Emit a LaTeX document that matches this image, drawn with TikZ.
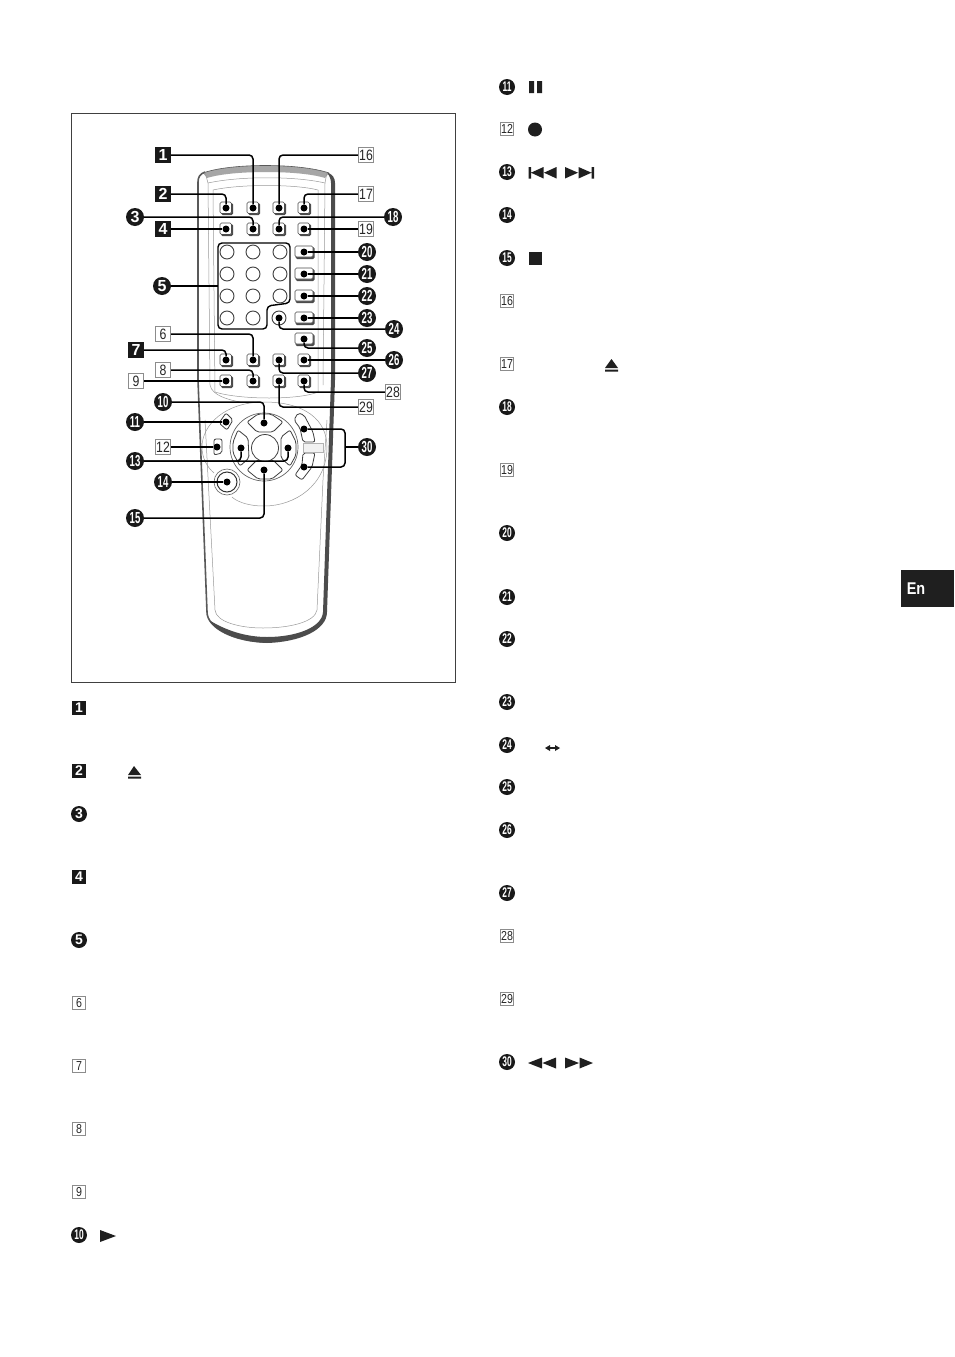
\documentclass[tikz,border=0pt]{standalone}
\usepackage{fontspec}
\usepackage{graphicx}
\setmainfont{Liberation Sans}
\newcommand{\nn}[1]{\scalebox{.6}[1]{#1}}
\newcommand{\mm}[1]{\scalebox{.82}[1]{#1}}
\tikzset{
 sqlab/.style={rectangle,fill=black!90,text=white,minimum size=16,inner sep=0,font=\fontsize{16}{16}\selectfont\bfseries},
 circlab/.style={circle,fill=black!90,text=white,minimum size=18,inner sep=0,font=\fontsize{16}{16}\selectfont\bfseries},
 boxlab/.style={rectangle,draw=black!45,line width=.7,fill=white,text=black!85,minimum size=15.5,inner sep=0,font=\fontsize{15}{15}\selectfont},
 sqsm/.style={sqlab,minimum size=14.5,font=\fontsize{14}{14}\selectfont\bfseries},
 circsm/.style={circlab,minimum size=16,font=\fontsize{14}{14}\selectfont\bfseries},
 boxsm/.style={boxlab,minimum size=13.5,font=\fontsize{13}{13}\selectfont},
 dot/.style={circle,fill=black,minimum size=7,inner sep=0},
 conn/.style={draw=black,line width=1.5,rounded corners=4},
 body/.style={draw=black!65,line width=.9},
 fine/.style={draw=black!40,line width=.5},
 key/.style={draw=black!75,line width=.8,fill=white,rounded corners=2},
 icon/.style={fill=black!88,draw=none},
}
\begin{document}
\begin{tikzpicture}[x=1pt,y=-1pt]
\useasboundingbox (0,0) rectangle (954,1357);
\fill[white] (0,0) rectangle (954,1357);
% frame and tab
\draw[black!75,line width=.7] (71,113) rectangle (455,682);
\fill[black!88] (901,570) rectangle (954,607);
\node[text=white,font=\fontsize{17}{17}\selectfont\bfseries] (tab) at (916,589) {\scalebox{.85}[1]{En}};
% remote body
\fill[black!35] (203,173) .. controls (230,163) and (300,163) .. (329,173) -- (325,178) .. controls (300,170) and (232,170) .. (207,178) -- cycle;
\draw[black!65,line width=.6] (203,173) .. controls (230,163) and (300,163) .. (329,173);
\draw[body,line width=1.6] (205,172) .. controls (200,174) and (198,177) .. (198,182) -- (198,380) -- (207,612) .. controls (207,628) and (235,642) .. (267,642);
\fill[black!70] (327,172) .. controls (333,175) and (335,178) .. (335,183) -- (335,380) -- (327,612) .. controls (327,630) and (300,642) .. (267,643) .. controls (240,642) and (215,632) .. (209,620) .. controls (225,630) and (245,637) .. (267,637) .. controls (295,637) and (322,628) .. (323,612) -- (331,380) -- (331,183) .. controls (331,178) and (329,176) .. (327,172) -- cycle;
\draw[fine] (205,172) -- (208,183) (327,172) -- (325,183);
\draw[fine] (208,183) .. controls (240,176) and (295,176) .. (325,183);
\draw[fine] (213,190) .. controls (240,184) and (295,184) .. (318,190);
\draw[fine] (208,183) -- (210,385) (325,183) -- (323,385);
\draw[fine] (213,190) -- (215,392) (318,190) -- (318,392);
\draw[fine] (215,392) .. controls (240,400) and (300,400) .. (318,392);
\draw[fine] (210,385) .. controls (212,396) and (230,400) .. (240,402);
\draw[fine] (205,420) -- (215,610) .. controls (216,622) and (240,628) .. (263,628) .. controls (290,628) and (315,622) .. (317,610) -- (323,480) -- (327,420);
\draw[fine] (264,402) .. controls (305,402) and (327,420) .. (327,447) .. controls (327,485) and (295,506) .. (264,506) .. controls (245,506) and (235,500) .. (232,497);
\draw[fine] (264,402) .. controls (225,402) and (202,425) .. (202,447) .. controls (202,458) and (207,467) .. (214,473);
% top buttons
\foreach \x/\y in {226/208,253/208,279/208,304/208,226/229,253/229,279/229,304/229,226/360,253/360,279/360,304/360,226/381,253/381,279/381,304/381}{
 \fill[black!70,rounded corners=1.5] (\x-5,\y-5) rectangle (\x+7,\y+7);
 \draw[black!70,fill=white,line width=.6,rounded corners=1.5] (\x-6,\y-6) rectangle (\x+5.5,\y+5.5);
}
\foreach \y in {252,274,296,318,339}{
 \fill[black!70,rounded corners=1.5] (295.5,\y-5) rectangle (314.5,\y+7);
 \draw[black!70,fill=white,line width=.6,rounded corners=1.5] (295,\y-6) rectangle (313,\y+5);
}
% number pad
\foreach \x in {227,253,280}{\foreach \y in {252,274,296}{
 \draw[black!75,fill=white,line width=.9] (\x,\y) circle (7);
}}
\foreach \x in {227,253}{\draw[black!75,fill=white,line width=.9] (\x,318) circle (7);}
\draw[black!75,fill=white,line width=.9] (279,318) circle (7);
\draw[conn,line width=1.4] (218,243) -- (290,243) -- (290,303) -- (267,306) -- (267,329) -- (218,329) -- cycle;
% control keys
\draw[black!60,line width=.7] (264,447) circle (34);
\draw[key] (247,422) -- (258,414) -- (271,414) -- (283,422) -- (273,432) -- (257,432) -- cycle;
\draw[key] (247,470) -- (258,479) -- (272,479) -- (283,470) -- (273,460) -- (257,460) -- cycle;
\draw[key] (238,430) -- (233,442) -- (233,453) -- (240,466) -- (249,458) -- (248,438) -- cycle;
\draw[key] (290,430) -- (296,442) -- (296,455) -- (290,466) -- (281,458) -- (281,437) -- cycle;
\draw[black!75,fill=white,line width=.8] (265,448) circle (13.5);
\draw[key] (298,413) -- (304,415) -- (313,432) -- (315,442) -- (303,442) -- (300,428) -- (294,420) -- cycle;
\draw[key] (303,453) -- (315,453) -- (312,467) -- (302,480) -- (295,475) -- (302,465) -- cycle;
\draw[black!30,fill=black!5,line width=.5] (303,443) rectangle (323,452);
\draw[key] (226,413) -- (233,420) -- (227,430) -- (219,423) -- cycle;
\draw[key] (214,439) -- (222,439) -- (222,453) -- (214,455) -- cycle;
\draw[black!60,fill=white,line width=.6] (227,482) circle (13);
\draw[black!80,fill=white,line width=1] (227,482) circle (10);
% button dots
\node[dot] (d1) at (253,208) {};
\node[dot] (d2) at (226,208) {};
\node[dot] (d3) at (253,229) {};
\node[dot] (d4) at (226,229) {};
\node[dot] (d6) at (253,360) {};
\node[dot] (d7) at (226,360) {};
\node[dot] (d8) at (253,381) {};
\node[dot] (d9) at (226,381) {};
\node[dot] (d10) at (264,423) {};
\node[dot] (d11) at (226,422) {};
\node[dot] (d12) at (217,447) {};
\node[dot] (d13a) at (241,448) {};
\node[dot] (d13b) at (288,448) {};
\node[dot] (d14) at (227,482) {};
\node[dot] (d15) at (264,470) {};
\node[dot] (d16) at (279,208) {};
\node[dot] (d17) at (304,208) {};
\node[dot] (d18) at (279,229) {};
\node[dot] (d19) at (304,229) {};
\node[dot] (d20) at (304,252) {};
\node[dot] (d21) at (304,274) {};
\node[dot] (d22) at (304,296) {};
\node[dot] (d23) at (304,318) {};
\node[dot] (d24) at (279,318) {};
\node[dot] (d25) at (304,339) {};
\node[dot] (d26) at (304,360) {};
\node[dot] (d27) at (279,360) {};
\node[dot] (d28) at (304,381) {};
\node[dot] (d29) at (279,381) {};
\node[dot] (d30a) at (304,429) {};
\node[dot] (d30b) at (304,467) {};
\coordinate (pad) at (218,286);
\coordinate (brk) at (345,447);
% callout labels
\node[sqlab] (l1) at (163,155) {1};
\node[sqlab] (l2) at (163,194) {2};
\node[circlab] (l3) at (135,217) {3};
\node[sqlab] (l4) at (163,229) {4};
\node[circlab] (l5) at (162,286) {5};
\node[boxlab] (l6) at (163,334) {\mm{6}};
\node[sqlab] (l7) at (136,350) {7};
\node[boxlab] (l8) at (163,370) {\mm{8}};
\node[boxlab] (l9) at (136,381) {\mm{9}};
\node[circlab] (l10) at (163,402) {\nn{10}};
\node[circlab] (l11) at (135,422) {\nn{11}};
\node[boxlab] (l12) at (163,447) {\mm{12}};
\node[circlab] (l13) at (135,461) {\nn{13}};
\node[circlab] (l14) at (163,482) {\nn{14}};
\node[circlab] (l15) at (135,518) {\nn{15}};
\node[boxlab] (l16) at (366,155) {\mm{16}};
\node[boxlab] (l17) at (366,194) {\mm{17}};
\node[circlab] (l18) at (393,217) {\nn{18}};
\node[boxlab] (l19) at (366,229) {\mm{19}};
\node[circlab] (l20) at (367,252) {\nn{20}};
\node[circlab] (l21) at (367,274) {\nn{21}};
\node[circlab] (l22) at (367,296) {\nn{22}};
\node[circlab] (l23) at (367,318) {\nn{23}};
\node[circlab] (l24) at (394,329) {\nn{24}};
\node[circlab] (l25) at (367,348) {\nn{25}};
\node[circlab] (l26) at (394,360) {\nn{26}};
\node[circlab] (l27) at (367,373) {\nn{27}};
\node[boxlab] (l28) at (393,392) {\mm{28}};
\node[boxlab] (l29) at (366,407) {\mm{29}};
\node[circlab] (l30) at (367,447) {\nn{30}};
% connectors
\draw[conn] (l1) -| (d1);
\draw[conn] (l2) -| (d2);
\draw[conn] (l3) -| (d3);
\draw[conn] (l4) -- (d4);
\draw[conn] (l5) -- (pad);
\draw[conn] (l6) -| (d6);
\draw[conn] (l7) -| (d7);
\draw[conn] (l8) -| (d8);
\draw[conn] (l9) -- (d9);
\draw[conn] (l10) -| (d10);
\draw[conn] (l11) -- (d11);
\draw[conn] (l12) -- (d12);
\draw[conn] (l13) -| (d13a);
\draw[conn] (l13) -| (d13b);
\draw[conn] (l14) -- (d14);
\draw[conn] (l15) -| (d15);
\draw[conn] (l16) -| (d16);
\draw[conn] (l17) -| (d17);
\draw[conn] (l18) -| (d18);
\draw[conn] (l19) -- (d19);
\draw[conn] (l20) -- (d20);
\draw[conn] (l21) -- (d21);
\draw[conn] (l22) -- (d22);
\draw[conn] (l23) -- (d23);
\draw[conn] (l24) -| (d24);
\draw[conn] (l25) -| (d25);
\draw[conn] (l26) -- (d26);
\draw[conn] (l27) -| (d27);
\draw[conn] (l28) -| (d28);
\draw[conn] (l29) -| (d29);
\draw[conn] (l30) -- (brk);
\draw[conn] (brk) |- (d30a);
\draw[conn] (brk) |- (d30b);
% left text column labels
\node[sqsm] (a1) at (79,708) {1};
\node[sqsm] (a2) at (79,771) {2};
\node[circsm] (a3) at (79,814) {3};
\node[sqsm] (a4) at (79,877) {4};
\node[circsm] (a5) at (79,940) {5};
\node[boxsm] (a6) at (79,1003) {\mm{6}};
\node[boxsm] (a7) at (79,1066) {\mm{7}};
\node[boxsm] (a8) at (79,1129) {\mm{8}};
\node[boxsm] (a9) at (79,1192) {\mm{9}};
\node[circsm] (a10) at (79,1235) {\nn{10}};
% right text column labels
\node[circsm] (b11) at (507,87) {\nn{11}};
\node[boxsm] (b12) at (507,129) {\mm{12}};
\node[circsm] (b13) at (507,172) {\nn{13}};
\node[circsm] (b14) at (507,215) {\nn{14}};
\node[circsm] (b15) at (507,258) {\nn{15}};
\node[boxsm] (b16) at (507,301) {\mm{16}};
\node[boxsm] (b17) at (507,364) {\mm{17}};
\node[circsm] (b18) at (507,407) {\nn{18}};
\node[boxsm] (b19) at (507,470) {\mm{19}};
\node[circsm] (b20) at (507,533) {\nn{20}};
\node[circsm] (b21) at (507,597) {\nn{21}};
\node[circsm] (b22) at (507,639) {\nn{22}};
\node[circsm] (b23) at (507,702) {\nn{23}};
\node[circsm] (b24) at (507,745) {\nn{24}};
\node[circsm] (b25) at (507,787) {\nn{25}};
\node[circsm] (b26) at (507,830) {\nn{26}};
\node[circsm] (b27) at (507,893) {\nn{27}};
\node[boxsm] (b28) at (507,936) {\mm{28}};
\node[boxsm] (b29) at (507,999) {\mm{29}};
\node[circsm] (b30) at (507,1062) {\nn{30}};
% icons
\fill[icon] (128,775) -- (134,766) -- (141,775) -- cycle (128,776.5) rectangle (141,778.5);
\fill[icon] (605,368) -- (611.5,359) -- (618,368) -- cycle (605,369.5) rectangle (618,371.5);
\fill[icon] (100,1230) -- (116,1236) -- (100,1242) -- cycle;
\fill[icon] (529,81) rectangle (534,93) (537,81) rectangle (542,93);
\fill[icon] (535,129.5) circle (7);
\fill[icon] (529,252) rectangle (542,264.5);
% previous / next
\fill[icon] (528.5,167) rectangle (531,178.5) (531,172.7) -- (543.5,167) -- (543.5,178.5) -- cycle (544,172.7) -- (556.5,167) -- (556.5,178.5) -- cycle;
\fill[icon] (565,167) -- (578,172.7) -- (565,178.5) -- cycle (578.5,167) -- (591.5,172.7) -- (578.5,178.5) -- cycle (591.5,167) rectangle (594,178.5);
% rewind / forward
\fill[icon] (528,1063) -- (542,1057.5) -- (542,1068.5) -- cycle (542.5,1063) -- (556,1057.5) -- (556,1068.5) -- cycle;
\fill[icon] (565,1057.5) -- (579,1063) -- (565,1068.5) -- cycle (579.5,1057.5) -- (593,1063) -- (579.5,1068.5) -- cycle;
% two-way arrow
\draw[icon,draw=black!88,line width=1.2] (548,748) -- (557,748);
\fill[icon] (545,748) -- (550,745) -- (550,751) -- cycle (560,748) -- (555,745) -- (555,751) -- cycle;
\end{tikzpicture}
\end{document}
